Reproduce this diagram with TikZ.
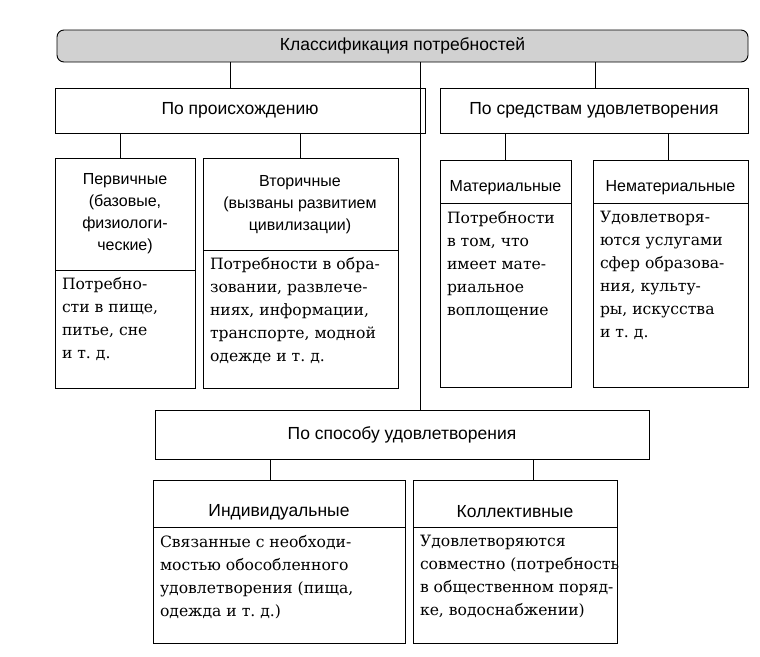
\documentclass[tikz,border=0pt]{standalone}
\usepackage{fontspec}
\setmainfont{DejaVu Serif}
\newfontfamily\headfont{Liberation Sans}
\usetikzlibrary{positioning}
\tikzset{
  every node/.style={inner sep=0pt, outer sep=0pt},
  frame/.style={draw, line width=0.9pt},
  head/.style={font=\headfont\fontsize{17.5}{20}\selectfont, align=center},
  body/.style={font=\fontsize{15.6}{23}\selectfont, align=left, anchor=north west},
  link/.style={line width=0.9pt},
}
\newcommand{\panel}[6]{% name, x1, y1, x2, y2, divider y
  \node[frame, anchor=north west, minimum width=#4pt-#2pt, minimum height=#5pt-#3pt] (#1) at (#2,#3) {};
  \draw[link] (#2,#6) -- (#4,#6);
}
\begin{document}
\begin{tikzpicture}[x=1pt,y=-1pt]
  \useasboundingbox (0,0) rectangle (760,656);
  % top
  \node[frame, rounded corners=7pt, fill=black!18, anchor=north west,
        minimum width=691pt, minimum height=32pt] (top) at (57,30) {};
  \node[head] at (top.center) {Классификация потребностей};
  % second level
  \node[frame, anchor=north west, minimum width=370pt, minimum height=45pt] (orig) at (55,88) {};
  \node[head] at (orig.center) {По происхождению};
  \node[frame, anchor=north west, minimum width=308pt, minimum height=45pt] (means) at (440,88) {};
  \node[head] at (means.center) {По средствам удовлетворения};
  \node[frame, anchor=north west, minimum width=494pt, minimum height=49pt] (way) at (155,410) {};
  \node[head] at (way.center) {По способу удовлетворения};
  \draw[link] (230,62) -- (230,88);
  \draw[link] (595,62) -- (595,88);
  \draw[link] (420,62) -- (420,410);
  % panels
  \panel{prim}{55}{158}{195}{388}{270}
  \panel{sec}{203}{158}{398}{388}{250}
  \panel{mat}{440}{160}{571}{387}{203}
  \panel{nonmat}{593}{160}{748}{387}{203}
  \panel{ind}{153}{480}{405}{643}{527}
  \panel{coll}{413}{480}{617}{643}{527}
  \draw[link] (120,133) -- (prim.north -| 120,0);
  \draw[link] (300,133) -- (sec.north -| 300,0);
  \draw[link] (505,133) -- (mat.north -| 505,0);
  \draw[link] (668,133) -- (nonmat.north -| 668,0);
  \draw[link] (270,459) -- (ind.north -| 270,0);
  \draw[link] (533,459) -- (coll.north -| 533,0);
  % headings
  \node[head, font=\headfont\fontsize{16}{22}\selectfont] at (125,214) {Первичные\\(базовые,\\физиологи-\\ческие)};
  \node[head, font=\headfont\fontsize{16}{22}\selectfont] at (300,205) {Вторичные\\(вызваны развитием\\цивилизации)};
  \node[head, font=\headfont\fontsize{16}{20}\selectfont] at (505.5,188) {Материальные};
  \node[head, font=\headfont\fontsize{16}{20}\selectfont] at (670.5,188) {Нематериальные};
  \node[head] at (279,512) {Индивидуальные};
  \node[head] at (515,512) {Коллективные};
  % texts
  \node[body] at (62,277) {Потребно-\\сти в пище,\\питье, сне\\и т.~д.};
  \node[body] at (210,257) {Потребности в обра-\\зовании, развлече-\\ниях, информации,\\транспорте, модной\\одежде и т.~д.};
  \node[body] at (447,211) {Потребности\\в том, что\\имеет мате-\\риальное\\воплощение};
  \node[body] at (600,211) {Удовлетворя-\\ются услугами\\сфер образова-\\ния, культу-\\ры, искусства\\и т.~д.};
  \node[body] at (160,535) {Связанные с необходи-\\мостью обособленного\\удовлетворения (пища,\\одежда и т.~д.)};
  \node[body] at (420,535) {Удовлетворяются\\совместно (потребность\\в общественном поряд-\\ке, водоснабжении)};
\end{tikzpicture}
\end{document}
